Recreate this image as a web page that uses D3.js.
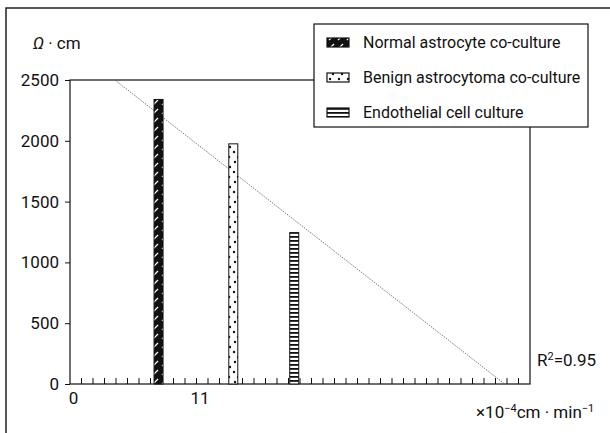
<!DOCTYPE html>
<html>
<head>
<meta charset="utf-8">
<script src="https://cdn.jsdelivr.net/npm/d3@7"></script>
<style>
  body { margin: 0; background: #fff; }
  svg text { font-family: "Roboto", "Liberation Sans", sans-serif; fill: #111; }
</style>
</head>
<body>
<div id="chart"></div>
<script>
// data
const groups = ["Normal astrocyte co-culture", "Benign astrocytoma co-culture", "Endothelial cell culture"];
const flux = [7.7, 14.2, 19.5];          // x position (x10^-4 cm/min)
const resistance = [2340, 1975, 1245];   // Ω·cm
const patterns = ["hatch", "dots", "ladder"];
const yTicks = [0, 500, 1000, 1500, 2000, 2500];
const xLabels = [0, 11];
const fitX = [3.9, 37.8];
const fitY = [2500, 0];
const r2 = "0.95";

const W = 610, H = 433;
const margin = { top: 80, right: 80, bottom: 49, left: 70 };
const width = W - margin.left - margin.right,
    height = H - margin.top - margin.bottom;

const svg = d3.select("#chart").append("svg")
    .attr("width", W).attr("height", H);

// patterns for the bars
const defs = svg.append("defs");
const hatch = defs.append("pattern").attr("id", "hatch")
    .attr("patternUnits", "userSpaceOnUse").attr("width", 9).attr("height", 9);
hatch.append("rect").attr("width", 9).attr("height", 9).attr("fill", "#111");
hatch.append("line").attr("x1", 2).attr("y1", 7).attr("x2", 7).attr("y2", 2)
    .attr("stroke", "#fff").attr("stroke-width", 1.3);

const dots = defs.append("pattern").attr("id", "dots")
    .attr("patternUnits", "userSpaceOnUse").attr("width", 9).attr("height", 20);
dots.append("rect").attr("width", 9).attr("height", 20).attr("fill", "#fff");
[[3, 2], [7, 7], [2, 12], [6, 17]].forEach(p =>
    dots.append("circle").attr("cx", p[0]).attr("cy", p[1]).attr("r", 1.2).attr("fill", "#111"));

const ladder = defs.append("pattern").attr("id", "ladder")
    .attr("patternUnits", "userSpaceOnUse").attr("width", 9).attr("height", 4);
ladder.append("rect").attr("width", 9).attr("height", 4).attr("fill", "#fff");
ladder.append("rect").attr("y", 0).attr("width", 9).attr("height", 1.8).attr("fill", "#111");

// outer frame
svg.append("path")
    .attr("d", `M6,${H} V8 H${W}`)
    .attr("fill", "none").attr("stroke", "#222").attr("stroke-width", 1.5);

const chart = svg.append("g")
    .attr("transform", `translate(${margin.left},${margin.top})`);

const x = d3.scaleLinear().domain([0, 40]).range([0, width]);
const y = d3.scaleLinear().domain([0, 2500]).range([height, 0]);

// plot frame
chart.append("rect")
    .attr("width", width).attr("height", height)
    .attr("fill", "none").attr("stroke", "#111").attr("stroke-width", 1.2);

// minor x ticks (inward)
chart.selectAll("line.xt")
    .data(d3.range(1, 40))
    .enter().append("line")
    .attr("class", "xt")
    .attr("x1", d => x(d)).attr("x2", d => x(d))
    .attr("y1", height).attr("y2", height - 6)
    .attr("stroke", "#111").attr("stroke-width", 1);

// x labels
const xAxis = chart.append("g")
    .attr("transform", `translate(0,${height})`)
    .call(d3.axisBottom(x).tickValues(xLabels).tickSize(0).tickPadding(8));
xAxis.select(".domain").remove();
xAxis.selectAll("text").attr("font-size", 17).attr("dx", 3);

// y axis
const yAxis = chart.append("g")
    .call(d3.axisLeft(y).tickValues(yTicks).tickFormat(d3.format("d"))
        .tickSize(5).tickPadding(6));
yAxis.select(".domain").remove();
yAxis.selectAll("line").attr("stroke", "#111");
yAxis.selectAll("text").attr("font-size", 17);

// regression line
chart.append("line")
    .attr("x1", x(fitX[0])).attr("y1", y(fitY[0]))
    .attr("x2", x(fitX[1])).attr("y2", y(fitY[1]))
    .attr("stroke", "#444").attr("stroke-width", 0.8)
    .attr("stroke-dasharray", "1.2,1.2");

// bars
const barW = 9;
chart.selectAll("rect.bar")
    .data(groups.map((g, i) => ({ g, x: flux[i], v: resistance[i], p: patterns[i] })))
    .enter().append("rect")
    .attr("class", "bar")
    .attr("x", d => x(d.x) - barW / 2)
    .attr("y", d => y(d.v))
    .attr("width", barW)
    .attr("height", d => height - y(d.v))
    .attr("fill", d => `url(#${d.p})`)
    .attr("stroke", "#111").attr("stroke-width", 1);

// axis titles
svg.append("text")
    .attr("x", 33).attr("y", 49)
    .attr("font-size", 17)
    .html('<tspan font-style="italic">Ω</tspan> · cm');

const xt = svg.append("text")
    .attr("x", 476).attr("y", 418)
    .attr("font-size", 17);
xt.append("tspan").text("×10");
xt.append("tspan").attr("dy", -6).attr("font-size", 11).text("−4");
xt.append("tspan").attr("dy", 6).text("cm · min");
xt.append("tspan").attr("dy", -6).attr("font-size", 11).text("−1");

const rt = svg.append("text")
    .attr("x", 537).attr("y", 366)
    .attr("font-size", 17);
rt.append("tspan").text("R");
rt.append("tspan").attr("dy", -6).attr("font-size", 11).text("2");
rt.append("tspan").attr("dy", 6).text("=" + r2);

// legend
const legend = svg.append("g").attr("transform", "translate(314,24)");
legend.append("rect")
    .attr("width", 274).attr("height", 103)
    .attr("fill", "#fff").attr("stroke", "#111").attr("stroke-width", 1.2);

const item = legend.selectAll("g.item")
    .data(groups.map((g, i) => ({ g, p: patterns[i] })))
    .enter().append("g")
    .attr("class", "item")
    .attr("transform", (d, i) => `translate(13,${18 + i * 35})`);
item.append("rect")
    .attr("y", -4).attr("width", 22).attr("height", 9)
    .attr("fill", d => `url(#${d.p})`)
    .attr("stroke", "#111").attr("stroke-width", 1.2);
item.append("text")
    .attr("x", 36).attr("y", 6)
    .attr("font-size", 16)
    .text(d => d.g);
</script>
</body>
</html>
